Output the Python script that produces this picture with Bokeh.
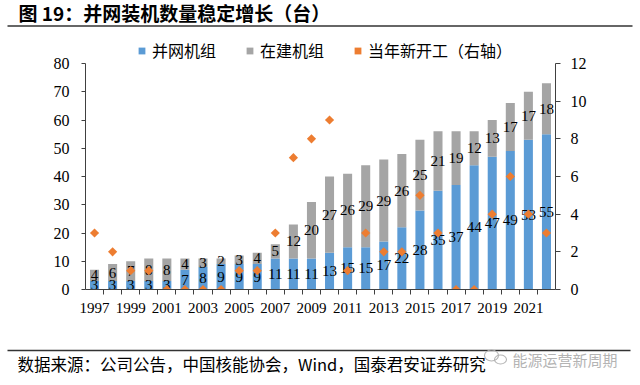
import numpy as np
from bokeh.plotting import figure
from bokeh.models import (Range1d, LinearAxis, FixedTicker, Legend, LegendItem,
                          ColumnDataSource)
from bokeh.core.properties import value
from bokeh.embed import file_html
from bokeh.resources import INLINE

# ---- data ----
years = list(range(1997, 2023))
grid_units = [3, 3, 3, 3, 3, 7, 8, 9, 9, 9, 11, 11, 11, 13, 15, 15, 17, 22, 28, 35, 37, 44, 47, 49, 53, 55]
building_units = [4, 6, 7, 8, 8, 4, 3, 2, 3, 4, 5, 12, 20, 27, 26, 29, 29, 26, 25, 21, 19, 12, 13, 17, 17, 18]
new_starts = [3, 2, 1, 1, 0, 0, 0, 0, 1, 1, 3, 7, 8, 9, 1, 3, 2, 2, 5, 3, 0, 0, 4, 6, 4, 3]
x_tick_years = list(range(1997, 2022, 2))
left_ticks = list(range(0, 81, 10))
right_ticks = list(range(0, 13, 2))

title_text = "图 19：并网装机数量稳定增长（台）"
source_text = "数据来源：公司公告，中国核能协会，Wind，国泰君安证券研究"
watermark_text = "能源运营新周期"
series_names = ["并网机组", "在建机组", "当年新开工（右轴）"]

BLUE = "#5B9BD5"
GRAY = "#A5A5A5"
ORANGE = "#ED7D31"
AXIS = "#404040"
RULE = "#333333"
WM = "#B4B4B4"
SERIF = "Liberation Serif"
CJK = "Noto Sans CJK SC"

W = 640
HEAD_H, MAIN_H, FOOT_H = 32, 287, 66
BL, BR, BB = 85, 85, 30
FRAME_H = MAIN_H - BB          # 257 px, axis 0..80 covers the lower 226 px
LEFT_MAX, RIGHT_MAX = 80, 12
PX_PER_UNIT = 226 / LEFT_MAX

total = [g + b for g, b in zip(grid_units, building_units)]
src = ColumnDataSource(dict(
    year=years, grid=grid_units, build=building_units, total=total,
    grid_mid=[g / 2 for g in grid_units],
    build_mid=[g + b / 2 for g, b in zip(grid_units, building_units)],
    grid_lbl=[str(v) for v in grid_units],
    build_lbl=[str(v) for v in building_units],
    starts=new_starts,
))


def blank_fig(h):
    f = figure(width=W, height=h, output_backend="svg", toolbar_location=None,
               x_range=Range1d(0, W), y_range=Range1d(h, 0),
               x_axis_location=None, y_axis_location=None,
               min_border=0, min_border_left=0, min_border_right=0,
               min_border_top=0, min_border_bottom=0)
    f.outline_line_color = None
    f.grid.visible = False
    return f


# ---- header: title + rule ----
head = blank_fig(HEAD_H)
head.text(x=[18], y=[12], text=[title_text], text_font=value(CJK),
          text_font_size="19px", text_font_style="bold", text_color="black",
          text_align="left", text_baseline="middle")
head.segment(x0=[7], y0=[25.5], x1=[632], y1=[25.5], line_color=RULE, line_width=1.3)

# ---- main chart ----
ytop = FRAME_H / PX_PER_UNIT
p = figure(width=W, height=MAIN_H, output_backend="svg", toolbar_location=None,
           x_range=Range1d(1996.5, 2022.5), y_range=Range1d(0, ytop),
           min_border_left=BL, min_border_right=BR, min_border_top=0, min_border_bottom=BB)
p.extra_y_ranges = {"right": Range1d(0, ytop * RIGHT_MAX / LEFT_MAX)}
p.outline_line_color = None
p.xgrid.visible = False
p.ygrid.visible = False

xa = p.xaxis[0]
xa.ticker = FixedTicker(ticks=x_tick_years, minor_ticks=[y + 0.5 for y in years[:-1]])
xa.major_tick_out = 0
xa.major_tick_in = 0
xa.minor_tick_out = 5
xa.minor_tick_in = 0
xa.axis_line_color = AXIS
xa.minor_tick_line_color = AXIS
xa.major_label_standoff = 8
xa.major_label_text_font = SERIF
xa.major_label_text_font_size = "15px"
xa.major_label_text_color = "black"

ya = p.yaxis[0]
ya.ticker = FixedTicker(ticks=left_ticks)
ya.bounds = (0, LEFT_MAX)
ya.major_tick_out = 4
ya.major_tick_in = 0
ya.minor_tick_line_color = None
ya.axis_line_color = AXIS
ya.major_tick_line_color = AXIS
ya.major_label_standoff = 12
ya.major_label_text_font = SERIF
ya.major_label_text_font_size = "16px"
ya.major_label_text_color = "black"

ra = LinearAxis(y_range_name="right", ticker=FixedTicker(ticks=right_ticks),
                bounds=(0, RIGHT_MAX))
ra.major_tick_out = 5
ra.major_tick_in = 0
ra.minor_tick_line_color = None
ra.axis_line_color = AXIS
ra.major_tick_line_color = AXIS
ra.major_label_standoff = 10
ra.major_label_text_font = SERIF
ra.major_label_text_font_size = "16px"
ra.major_label_text_color = "black"
p.add_layout(ra, "right")

p.vbar(x="year", bottom=0, top="grid", width=0.5, source=src,
       fill_color=BLUE, line_color=None)
p.vbar(x="year", bottom="grid", top="total", width=0.5, source=src,
       fill_color=GRAY, line_color=None)

for ycol, tcol in (("grid_mid", "grid_lbl"), ("build_mid", "build_lbl")):
    p.text(x="year", y=ycol, text=tcol, source=src,
           text_font=value(SERIF), text_font_size="15px", text_color="black",
           text_align="center", text_baseline="middle")

r_starts = p.scatter(x="year", y="starts", source=src, y_range_name="right",
                     marker="square", angle=np.pi / 4, size=6.5,
                     fill_color=ORANGE, line_color=None)

# legend proxies, kept outside the visible ranges
proxy = ColumnDataSource(dict(x=[1900], y=[-100]))
r_pb = p.scatter(x="x", y="y", source=proxy, marker="square", size=7, fill_color=BLUE, line_color=None)
r_pg = p.scatter(x="x", y="y", source=proxy, marker="square", size=7, fill_color=GRAY, line_color=None)
legend = Legend(items=[LegendItem(label=series_names[0], renderers=[r_pb]),
                       LegendItem(label=series_names[1], renderers=[r_pg]),
                       LegendItem(label=series_names[2], renderers=[r_starts])],
                orientation="horizontal", location=(48, 227),
                glyph_width=17, glyph_height=17, label_standoff=2, spacing=25,
                padding=0, margin=0, border_line_color=None, background_fill_alpha=0,
                label_text_font=CJK, label_text_font_size="16px", label_text_color="black")
p.add_layout(legend)

# ---- footer: rule + watermark + source ----
foot = blank_fig(FOOT_H)
foot.segment(x0=[7], y0=[31], x1=[630], y1=[31], line_color=RULE, line_width=1.3)
foot.ellipse(x=[491, 500], y=[36, 40], width=[14, 12], height=[11, 9],
             fill_color=None, line_color=WM, line_width=1.1)
foot.text(x=[512], y=[40], text=[watermark_text], text_font=value(CJK),
          text_font_size="15px", text_color=WM,
          text_align="left", text_baseline="middle")
foot.text(x=[17], y=[44], text=[source_text], text_font=value(CJK),
          text_font_size="16.5px", text_color="black",
          text_align="left", text_baseline="middle")

open("out.html", "w").write(file_html([head, p, foot], INLINE))
